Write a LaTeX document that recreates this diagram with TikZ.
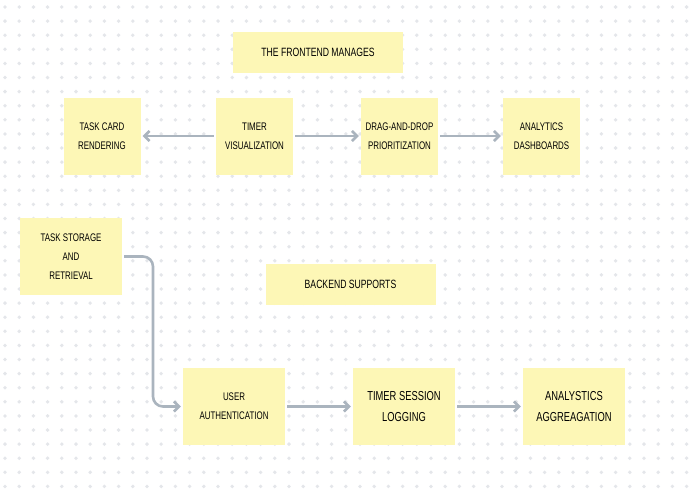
\documentclass[tikz,border=0pt]{standalone}
\usepackage{fontspec}
\setmainfont[FakeStretch=0.72]{Liberation Sans}
\usetikzlibrary{arrows.meta}

\definecolor{notefill}{HTML}{FDF7B6}
\definecolor{linkgray}{HTML}{AAB4BE}
\definecolor{dotgray}{HTML}{E4E6EA}
\tikzset{
  note/.style={fill=notefill, minimum width=#1, minimum height=77pt, align=center, inner sep=2pt, font=\fontsize{11}{19}\selectfont},
  note/.default=77pt,
  headline/.style={fill=notefill, minimum width=170pt, minimum height=41pt, font=\fontsize{12}{14}\selectfont},
  link/.style={-{Straight Barb[length=5pt,width=10pt]}, draw=linkgray, line width=2.6pt, shorten >=2pt, shorten <=2pt, rounded corners=10pt}
}

\begin{document}
\begin{tikzpicture}[x=1pt, y=-1pt]
    \useasboundingbox (0,0) rectangle (690,488);
    \fill[white] (0,0) rectangle (690,488);
    \foreach \i in {0,...,48}
    \foreach \j in {0,...,34}
    \fill[dotgray] (5+14.2*\i, 7+14.1*\j) circle (1.9pt);

    \node[headline] at (318, 52.5) (front) {THE FRONTEND MANAGES};
    \node[headline] at (350.5, 284.5) (back) {BACKEND SUPPORTS};

    \node[note] at (102, 136) (card)  {TASK CARD\\RENDERING};
    \node[note] at (254.5, 136) (timer) {TIMER\\VISUALIZATION};
    \node[note] at (399.5, 136) (drag) {DRAG-AND-DROP\\PRIORITIZATION};
    \node[note] at (541.5, 136) (dash) {ANALYTICS\\DASHBOARDS};

    \node[note=102pt] at (71, 256.5) (store) {TASK STORAGE\\AND\\RETRIEVAL};
    \node[note=102pt] at (234, 406.5) (auth) {USER\\AUTHENTICATION};
    \node[note=102pt, font=\fontsize{13}{21}\selectfont] at (404, 406.5) (session) {TIMER SESSION\\LOGGING};
    \node[note=102pt, font=\fontsize{13}{21}\selectfont] at (574, 406.5) (aggr) {ANALYSTICS\\AGGREAGATION};

    \draw[link] (timer) -- (card);
    \draw[link] (timer) -- (drag);
    \draw[link] (drag) -- (dash);
    \draw[link] (store.east) -- (153,256.5) -- (153,406.5) -- (auth.west);
    \draw[link] (auth) -- (session);
    \draw[link] (session) -- (aggr);

  \end{tikzpicture}
\end{document}
